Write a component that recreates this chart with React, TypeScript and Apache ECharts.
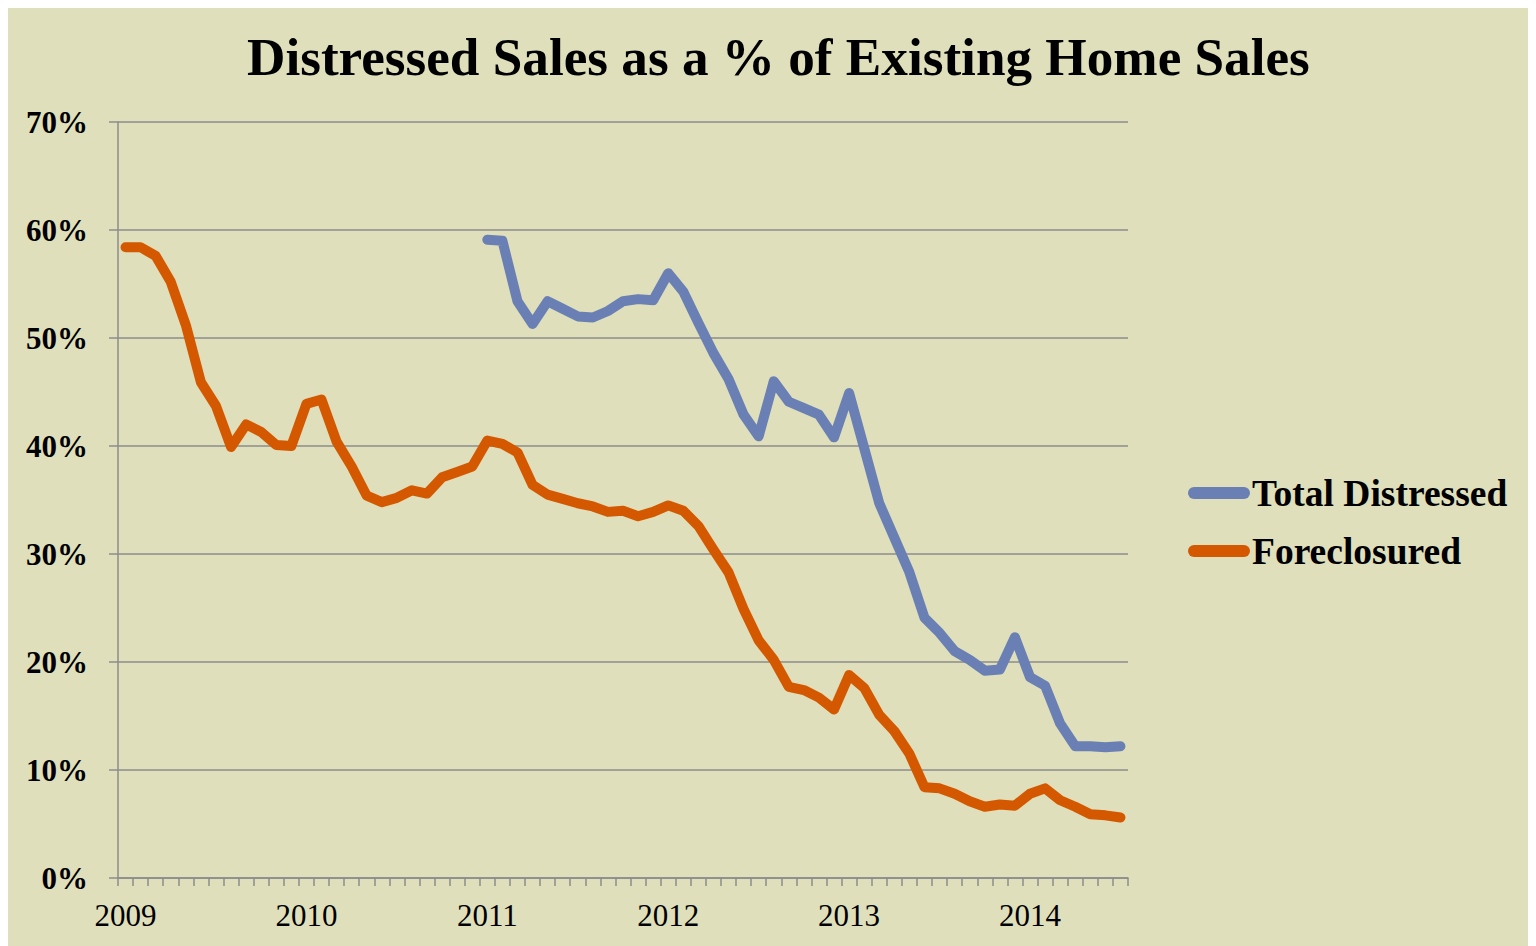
import React, { useEffect, useRef } from "react";
import * as echarts from "echarts";

const years = ["2009", "2010", "2011", "2012", "2013", "2014"];
const months = ["01", "02", "03", "04", "05", "06", "07", "08", "09", "10", "11", "12"];
const monthCount = 67; // Jan 2009 .. Jul 2014

const categories: string[] = [];
for (let i = 0; i < monthCount; i++) {
  categories.push(years[Math.floor(i / 12)] + "-" + months[i % 12]);
}

const totalDistressed: (number | null)[] = [
  null, null, null, null, null, null, null, null, null, null, null, null,
  null, null, null, null, null, null, null, null, null, null, null, null,
  59.1, 59.0, 53.4, 51.3, 53.4, 52.7, 52.0, 51.9, 52.5, 53.4, 53.6, 53.5,
  56.0, 54.3, 51.4, 48.6, 46.2, 42.9, 40.9, 46.0, 44.1, 43.5, 42.9, 40.8,
  44.9, 39.8, 34.7, 31.5, 28.3, 24.1, 22.7, 21.0, 20.2, 19.2, 19.3, 22.3,
  18.6, 17.8, 14.3, 12.2, 12.2, 12.1, 12.2,
];

const foreclosured: number[] = [
  58.4, 58.4, 57.6, 55.2, 51.2, 45.9, 43.7, 39.9, 42.0, 41.3, 40.1, 40.0,
  43.9, 44.3, 40.4, 38.1, 35.4, 34.8, 35.2, 35.9, 35.6, 37.1, 37.6, 38.1,
  40.5, 40.2, 39.4, 36.4, 35.5, 35.1, 34.7, 34.4, 33.9, 34.0, 33.5, 33.9,
  34.5, 34.0, 32.6, 30.4, 28.3, 24.9, 22.0, 20.2, 17.7, 17.4, 16.7, 15.6,
  18.8, 17.6, 15.1, 13.6, 11.5, 8.4, 8.3, 7.8, 7.1, 6.6, 6.8, 6.7,
  7.8, 8.3, 7.2, 6.6, 5.9, 5.8, 5.6,
];

const seriesNames = ["Total Distressed", "Foreclosured"];
const titleText = "Distressed Sales as a % of Existing Home Sales";

const BLUE = "#6a80b4";
const ORANGE = "#d45800";
const GRAY = "#8c8c8c";
const SERIF = "'Liberation Serif', 'Times New Roman', serif";
const CAPSULE = "path://M6,0 L56,0 A6,6 0 0 1 56,12 L6,12 A6,6 0 0 1 6,0 Z";

export default function App() {
  const ref = useRef<HTMLDivElement>(null);

  useEffect(() => {
    document.body.style.overflow = "hidden";
    if (!ref.current) return;
    const chart = echarts.init(ref.current, null, { renderer: "svg" });
    chart.setOption({
      animation: false,
      backgroundColor: "#dfdfbb",
      title: {
        text: titleText,
        left: 234,
        top: 18,
        textStyle: {
          fontFamily: SERIF,
          fontWeight: "bold",
          fontSize: 53.2,
          color: "#000",
        },
      },
      legend: {
        orient: "vertical",
        left: 1175,
        top: 461,
        itemWidth: 62,
        itemHeight: 12,
        itemGap: 20,
        icon: CAPSULE,
        textStyle: {
          fontFamily: SERIF,
          fontWeight: "bold",
          fontSize: 37.5,
          color: "#000",
          padding: [0, 0, 0, -3],
        },
        data: [
          { name: seriesNames[0], itemStyle: { color: BLUE } },
          { name: seriesNames[1], itemStyle: { color: ORANGE } },
        ],
      },
      grid: { left: 110, right: 408, top: 114, bottom: 68 },
      xAxis: {
        type: "category",
        data: categories,
        boundaryGap: true,
        axisLine: { show: true, lineStyle: { color: GRAY, width: 1.5 } },
        axisTick: {
          show: true,
          interval: 0,
          length: 8,
          lineStyle: { color: GRAY, width: 1.5 },
        },
        axisLabel: {
          interval: 11,
          margin: 22,
          fontFamily: SERIF,
          fontSize: 31,
          color: "#000",
          formatter: (v: string) => v.slice(0, 4),
        },
        splitLine: { show: false },
      },
      yAxis: {
        type: "value",
        min: 0,
        max: 70,
        interval: 10,
        axisLine: { show: true, lineStyle: { color: GRAY, width: 1.5 } },
        axisTick: { show: true, length: 9, lineStyle: { color: GRAY, width: 1.5 } },
        axisLabel: {
          margin: 30,
          fontFamily: SERIF,
          fontWeight: "bold",
          fontSize: 31,
          color: "#000",
          formatter: "{value}%",
        },
        splitLine: { show: true, lineStyle: { color: GRAY, width: 1.5 } },
      },
      series: [
        {
          name: seriesNames[0],
          type: "line",
          data: totalDistressed,
          showSymbol: false,
          symbol: "none",
          connectNulls: false,
          itemStyle: { color: BLUE },
          lineStyle: { color: BLUE, width: 10, cap: "round", join: "round" },
        },
        {
          name: seriesNames[1],
          type: "line",
          data: foreclosured,
          showSymbol: false,
          symbol: "none",
          itemStyle: { color: ORANGE },
          lineStyle: { color: ORANGE, width: 10, cap: "round", join: "round" },
        },
      ],
    });
    return () => chart.dispose();
  }, []);

  return <div ref={ref} style={{ width: 1528, height: 938 }} />;
}
